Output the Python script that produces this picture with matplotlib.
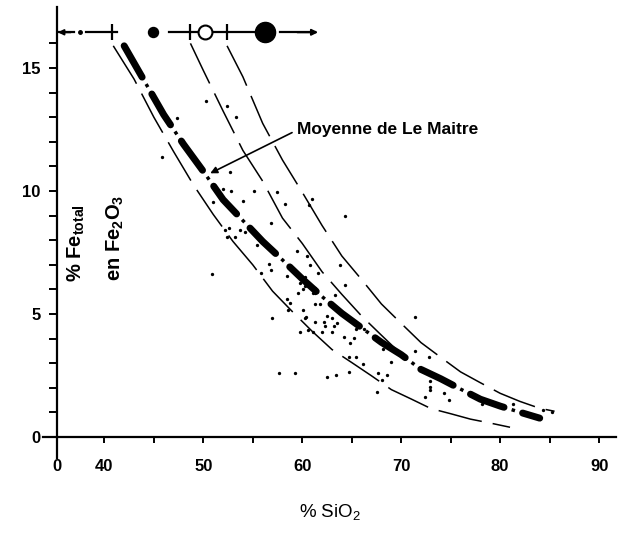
import matplotlib
matplotlib.use("Agg")
import matplotlib.pyplot as plt

plt.rcParams['font.family'] = ['Liberation Sans', 'DejaVu Sans']
plt.rcParams['lines.scale_dashes'] = False
plt.rcParams['mathtext.fontset'] = 'custom'
plt.rcParams['mathtext.rm'] = 'Liberation Sans'
plt.rcParams['mathtext.bf'] = 'Liberation Sans:bold'

# "Moyenne de Le Maitre" (thick dash-dot curve)
mean_x = [42, 44, 46, 48, 50, 52, 54, 56, 58, 60, 62, 64, 66, 68, 70, 72, 74, 76, 78, 80, 82, 84]
mean_y = [15.9, 14.5, 13.1, 11.9, 10.8, 9.65, 8.8, 7.95, 7.2, 6.43, 5.71, 5.03, 4.44, 3.85, 3.35, 2.75,
          2.37, 1.95, 1.54, 1.26, 1.01, 0.77]

# thin dashed envelope curves
a_x = [40.9, 43, 45, 47, 49, 51, 53, 55, 57, 59, 61, 63, 65, 67, 69, 71, 73, 75, 77, 79, 81]
a_y = [15.9, 14.55, 13.0, 11.6, 10.25, 9.05, 7.95, 7.0, 5.93, 5.1, 4.3, 3.56, 3.03, 2.49, 1.93, 1.55,
       1.16, 0.95, 0.73, 0.57, 0.4]
b_x = [48.7, 50, 52, 54, 56, 58, 60, 62, 64, 66, 68, 70, 70.5]
b_y = [16.0, 14.9, 13.25, 11.65, 10.4, 8.9, 7.87, 6.72, 5.8, 4.92, 4.14, 3.37, 3.2]
c_x = [52.4, 54, 56, 58, 60, 62, 64, 66, 68, 70, 72, 74, 76, 78, 80, 82, 84, 85.5]
c_y = [15.9, 14.64, 12.75, 11.26, 9.95, 8.6, 7.36, 6.4, 5.41, 4.62, 3.84, 3.24, 2.65, 2.21, 1.78, 1.45,
       1.17, 1.05]

# individual analyses
pts_x = [50.3, 52.4, 53.3, 47.3, 45.8, 52.7, 52.0, 52.8, 55.1, 57.4, 54.0, 51.0, 61.0, 60.7, 58.3, 64.3,
         56.8, 52.2, 52.6, 53.7, 54.2, 52.4, 53.2, 59.5, 60.5, 63.8, 56.6, 56.8, 55.8, 50.9, 60.8, 61.6,
         58.5, 59.8, 60.3, 60.8, 64.3, 61.3, 59.6, 61.1, 63.3, 58.5, 59.8, 60.3, 60.1, 61.3, 61.3, 61.8,
         60.1, 60.3, 61.3, 62.2, 62.5, 63.0, 62.3, 63.2, 63.5, 60.6, 61.1, 62.0, 63.0, 64.2, 65.4, 66.2,
         65.2, 64.8, 71.4, 68.2, 71.4, 64.7, 65.4, 59.8, 56.9, 57.7, 59.3, 62.5, 63.4, 64.7, 66.1, 67.7,
         68.6, 68.1, 67.6, 69.0, 72.8, 72.9, 72.9, 72.4, 74.3, 74.8, 72.9, 78.2, 81.3, 84.3, 85.2, 58.8,
         58.6, 60.4, 55.4]
pts_y = [13.67, 13.47, 13.0, 12.95, 11.37, 10.78, 10.1, 10.0, 10.0, 9.97, 9.6, 9.56, 9.66, 9.43, 9.47, 9.0,
         8.71, 8.41, 8.48, 8.41, 8.35, 8.14, 8.14, 7.56, 7.37, 6.99, 7.02, 6.79, 6.65, 6.61, 6.99, 6.65,
         6.54, 6.25, 6.15, 6.18, 6.18, 6.04, 5.84, 5.84, 5.77, 5.6, 6.52, 6.52, 6.0, 5.87, 5.41, 5.41,
         5.16, 4.83, 4.69, 4.69, 4.92, 4.83, 4.51, 4.51, 4.65, 4.35, 4.28, 4.28, 4.28, 4.08, 4.38, 4.38,
         4.01, 3.81, 4.87, 3.57, 3.5, 3.26, 3.24, 4.28, 4.85, 2.59, 2.59, 2.44, 2.51, 2.65, 2.97, 2.61,
         2.52, 2.32, 1.84, 3.04, 3.26, 2.28, 2.04, 1.64, 1.78, 1.5, 1.91, 1.34, 1.34, 1.1, 1.03, 5.43,
         5.16, 4.89, 7.8]

# classification bar along the top
bar_y = 16.45
bar_segments = [(35.3, 36.95), (38.1, 41.3), (46.5, 49.7), (50.7, 55.3), (57.8, 61.3)]
bar_small_dot = 37.5
bar_ticks = [40.8, 48.7, 52.4]
bar_filled_small = 44.9
bar_open = 50.2
bar_filled_big = 56.2

x_break = 35.25
x_ticks = [x_break, 40, 45, 50, 55, 60, 65, 70, 75, 80, 85, 90]
x_labels = ['0', '40', '', '50', '', '60', '', '70', '', '80', '', '90']
y_ticks = list(range(0, 17))
y_labels = [str(v) if v % 5 == 0 else '' for v in y_ticks]

fig = plt.figure(figsize=(6.19, 5.34), dpi=100)
ax = fig.add_axes([0.0695, 0.1423, 0.9255, 0.8447])
ax.set_xlim(33.8, 91.7)
ax.set_ylim(-0.85, 17.48)

for s in ['top', 'right']:
    ax.spines[s].set_visible(False)
ax.spines['left'].set_position(('data', x_break))
ax.spines['bottom'].set_position(('data', 0))
ax.spines['left'].set_linewidth(1.6)
ax.spines['bottom'].set_linewidth(1.6)

ax.set_xticks(x_ticks)
ax.set_xticklabels(x_labels, fontsize=12, fontweight='bold')
ax.set_yticks(y_ticks)
ax.set_yticklabels(y_labels, fontsize=12, fontweight='bold')
ax.tick_params(axis='x', direction='out', length=4, width=1.4, pad=12)
ax.tick_params(axis='y', direction='out', length=6, width=1.4, pad=6)

# curves
thin = dict(color='black', lw=1.1, linestyle=(0, (32, 8)))
ax.plot(a_x, a_y, **thin)
ax.plot(b_x, b_y, **thin)
ax.plot(c_x, c_y, **thin)
ax.plot(mean_x, mean_y, color='black', lw=5, linestyle=(0, (26, 14)), dash_capstyle='round')
ax.plot(mean_x, mean_y, color='black', lw=2.5, linestyle=(8.25, (2.5, 37.5)))

ax.plot(pts_x, pts_y, 'o', color='black', ms=2.4, mew=0)

# top bar
for x0, x1 in bar_segments:
    ax.plot([x0, x1], [bar_y, bar_y], color='black', lw=1.6, clip_on=False)
ax.annotate('', xy=(35.3, bar_y), xytext=(36.6, bar_y),
            arrowprops=dict(arrowstyle='-|>', color='black', lw=1.4, mutation_scale=8,
                            shrinkA=0, shrinkB=0))
ax.annotate('', xy=(61.6, bar_y), xytext=(59.5, bar_y),
            arrowprops=dict(arrowstyle='-|>', color='black', lw=1.4, mutation_scale=9,
                            shrinkA=0, shrinkB=0))
ax.plot([bar_small_dot], [bar_y], 'o', color='black', ms=2.5)
ax.plot(bar_ticks, [bar_y] * len(bar_ticks), '|', color='black', ms=12, mew=1.6)
ax.plot([bar_filled_small], [bar_y], 'o', color='black', ms=7.2)
ax.plot([bar_open], [bar_y], 'o', mfc='white', mec='black', mew=1.5, ms=10)
ax.plot([bar_filled_big], [bar_y], 'o', color='black', ms=14.5)

ax.annotate('Moyenne de Le Maitre', xy=(50.7, 10.72), xytext=(59.5, 12.48),
            fontsize=12.5, fontweight='bold', ha='left', va='center',
            arrowprops=dict(arrowstyle='-|>', color='black', lw=1.2, mutation_scale=10,
                            shrinkA=2, shrinkB=0, relpos=(0, 0.5)))

fig.text(76 / 619, 1 - 243 / 534, r'% Fe$\mathbf{_{total}}$', rotation=90,
         fontsize=14.5, fontweight='bold', ha='center', va='center')
fig.text(115 / 619, 1 - 238 / 534, r'en Fe$\mathbf{_2}$O$\mathbf{_3}$', rotation=90,
         fontsize=14.5, fontweight='bold', ha='center', va='center')
fig.text(330 / 619, 1 - 512 / 534, r'% SiO$\mathregular{_2}$', fontsize=13.5, ha='center', va='center')

fig.savefig('out.png', dpi=100)
